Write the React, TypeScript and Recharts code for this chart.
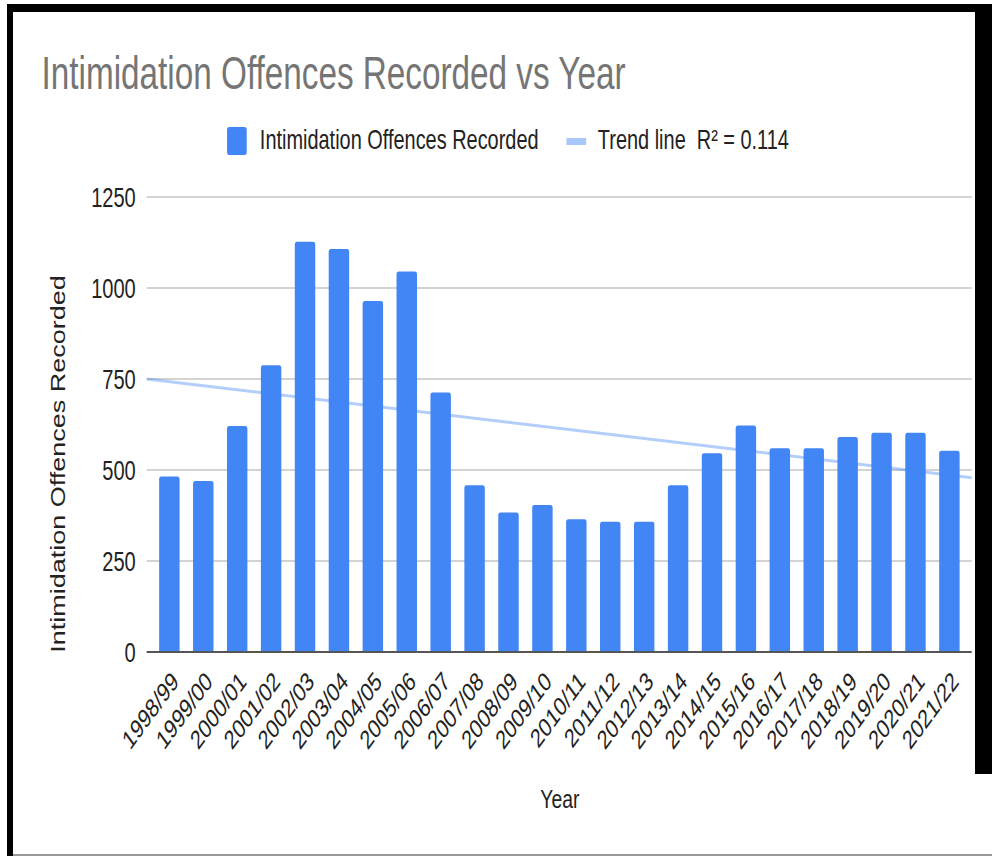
import React from "react";
import { Bar, CartesianGrid, ComposedChart, Line, XAxis, YAxis } from "recharts";

const years = [
  "1998/99", "1999/00", "2000/01", "2001/02", "2002/03", "2003/04", "2004/05", "2005/06",
  "2006/07", "2007/08", "2008/09", "2009/10", "2010/11", "2011/12", "2012/13", "2013/14",
  "2014/15", "2015/16", "2016/17", "2017/18", "2018/19", "2019/20", "2020/21", "2021/22",
];
const offences = [
  482, 470, 621, 788, 1127, 1107, 964, 1045, 713, 458, 383, 404,
  365, 358, 358, 458, 546, 622, 560, 560, 591, 602, 602, 553,
];
const yTicks = [0, 250, 500, 750, 1000, 1250];
// trend line, at the left and right edges of the plot
const trendPos = [0, 1];
const trendValues = [750, 479];

const data = years.map((year, i) => ({ year, offences: offences[i] }));
const trendData = trendPos.map((pos, i) => ({ pos, trend: trendValues[i] }));

// the reference is squeezed horizontally, so the chart is drawn wide and scaled
const SX = 0.73;
const W = Math.round(992 / SX);
const H = 856;
const FONT = "'Liberation Sans', Arial, sans-serif";

function YearTick({ x, y, payload }: any) {
  const x0 = x + 14;
  const y0 = y + 31;
  return (
    <text
      x={x0}
      y={y0}
      textAnchor="end"
      fontSize={26.5}
      fontFamily={FONT}
      fill="#222"
      transform={`rotate(-45, ${x0}, ${y0})`}
    >
      {payload.value}
    </text>
  );
}

export default function App() {
  return (
    <div
      style={{
        position: "absolute",
        left: 0,
        top: 0,
        width: 992,
        height: 856,
        overflow: "hidden",
        background: "#fff",
      }}
    >
      <div
        style={{
          position: "absolute",
          left: 0,
          top: 0,
          width: W,
          height: H,
          transform: `scaleX(${SX})`,
          transformOrigin: "0 0",
        }}
      >
        <ComposedChart
          width={W}
          height={H}
          data={data}
          margin={{ top: 197, right: 28, bottom: 84, left: 0 }}
        >
          <CartesianGrid vertical={false} stroke="#d3d3d3" strokeWidth={2} />
          <XAxis
            dataKey="year"
            interval={0}
            height={120}
            padding={{ left: 8, right: 7 }}
            tickLine={false}
            tickSize={0}
            tickMargin={0}
            axisLine={{ stroke: "#555", strokeWidth: 2 }}
            tick={<YearTick />}
          />
          <XAxis xAxisId="trend" type="number" dataKey="pos" domain={[0, 1]} hide />
          <YAxis
            width={201}
            domain={[0, 1250]}
            ticks={yTicks}
            interval={0}
            axisLine={false}
            tickLine={false}
            tickSize={0}
            tickMargin={15}
            tick={{ fontSize: 27.5, fontFamily: FONT, fill: "#222" }}
          />
          <Bar dataKey="offences" fill="#4285f4" barSize={28} radius={[3, 3, 0, 0]} isAnimationActive={false} />
          <Line
            xAxisId="trend"
            data={trendData}
            dataKey="trend"
            type="linear"
            stroke="#4285f4"
            strokeOpacity={0.4}
            strokeWidth={3}
            dot={false}
            activeDot={false}
            isAnimationActive={false}
          />
        </ComposedChart>
        <svg
          width={W}
          height={H}
          style={{ position: "absolute", left: 0, top: 0, pointerEvents: "none" }}
          fontFamily={FONT}
        >
          <text x={57} y={89} fontSize={45.6} fill="#757575">
            Intimidation Offences Recorded vs Year
          </text>
          <rect x={311} y={127} width={27} height={28} rx={3} fill="#4285f4" />
          <text x={356} y={149} fontSize={27.3} fill="#222">
            Intimidation Offences Recorded
          </text>
          <rect x={776} y={138} width={27} height={7} fill="#a8c7fa" />
          <text x={819} y={149} fontSize={27.3} fill="#222" style={{ whiteSpace: "pre" }}>
            {"Trend line  R² = 0.114"}
          </text>
          <text
            x={89}
            y={464}
            fontSize={27}
            fill="#222"
            textAnchor="middle"
            transform="rotate(-90, 89, 464)"
          >
            Intimidation Offences Recorded
          </text>
          <text x={767} y={808} fontSize={26.5} fill="#222" textAnchor="middle">
            Year
          </text>
        </svg>
      </div>
      <div style={{ position: "absolute", left: 7, top: 4, width: 985, height: 8, background: "#000" }} />
      <div style={{ position: "absolute", left: 7, top: 4, width: 6, height: 852, background: "#000" }} />
      <div style={{ position: "absolute", left: 975, top: 4, width: 17, height: 770, background: "#000" }} />
      <div style={{ position: "absolute", left: 13, top: 854, width: 979, height: 2, background: "#999" }} />
    </div>
  );
}
